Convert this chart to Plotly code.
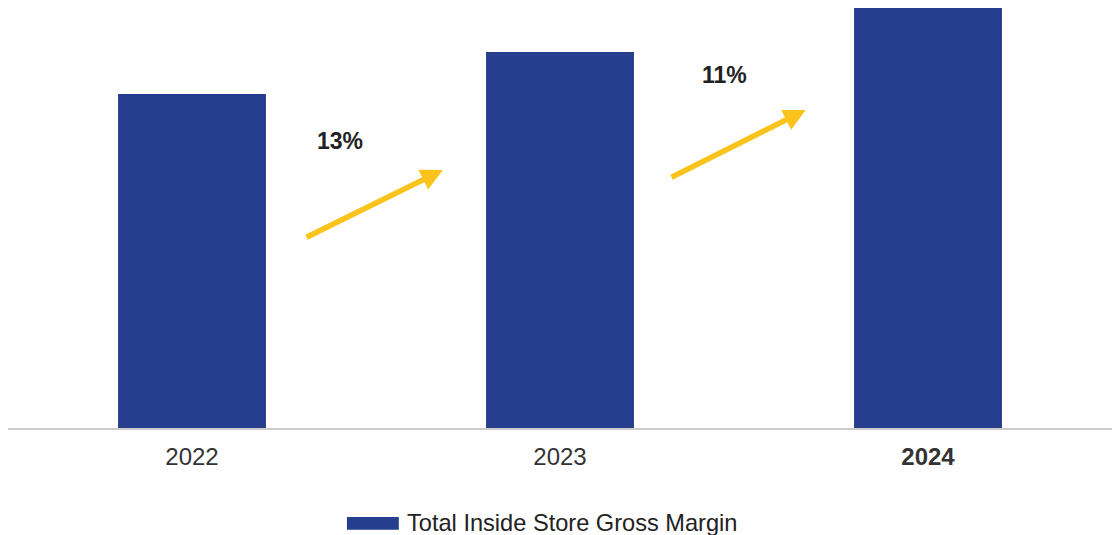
import plotly.graph_objects as go

years = ["2022", "2023", "2024"]
tick_labels = ["2022", "2023", "<b>2024</b>"]
gross_margin = [334, 376, 420]
growth_labels = ["13%", "11%"]
series_name = "Total Inside Store Gross Margin"

BAR = "#253F8E"
ARROW = "#FBC31C"
TEXT = "#222222"
FONT = "Liberation Sans, Arial, sans-serif"

fig = go.Figure()
fig.add_trace(go.Bar(
    x=list(range(len(years))), y=gross_margin, name=series_name,
    marker=dict(color=BAR, line=dict(width=0)), showlegend=False,
    hoverinfo="x+y",
))

# growth arrows (tail -> head), in axis coordinates
arrows = [((0.307, 190), (0.682, 258)), ((1.299, 250), (1.668, 318))]
label_pos = [(0.402, 287), (1.446, 353)]
for (tail, head), txt, (lx, ly) in zip(arrows, growth_labels, label_pos):
    fig.add_annotation(x=head[0], y=head[1], ax=tail[0], ay=tail[1],
                       xref="x", yref="y", axref="x", ayref="y",
                       text="", showarrow=True, arrowhead=2, arrowsize=0.8,
                       arrowwidth=5.5, arrowcolor=ARROW)
    fig.add_annotation(x=lx, y=ly, xref="x", yref="y", text=f"<b>{txt}</b>",
                       showarrow=False, font=dict(size=23, color=TEXT, family=FONT))

# custom legend
fig.add_shape(type="rect", xref="paper", yref="paper",
              x0=0.307, x1=0.354, y0=-0.238, y1=-0.208,
              fillcolor=BAR, line=dict(width=0))
fig.add_annotation(x=0.3596, y=-0.223, xref="paper", yref="paper",
                   xanchor="left", yanchor="middle", text=series_name,
                   showarrow=False, font=dict(size=23.6, color=TEXT, family=FONT))

fig.update_layout(
    width=1117, height=535,
    margin=dict(l=8, r=5, t=0, b=107),
    paper_bgcolor="white", plot_bgcolor="white",
    bargap=0.598,
    font=dict(family=FONT, color=TEXT, size=22),
    xaxis=dict(tickmode="array", tickvals=list(range(len(years))), ticktext=tick_labels,
               range=[-0.5, 2.5], showline=True, linecolor="#CCCCCC", linewidth=1.5,
               showgrid=False, zeroline=False, ticks="", ticklabelstandoff=6,
               tickfont=dict(size=24, color="#333333", family=FONT)),
    yaxis=dict(range=[0, 428], visible=False, showgrid=False, zeroline=False),
)

fig.write_html("out.html")
